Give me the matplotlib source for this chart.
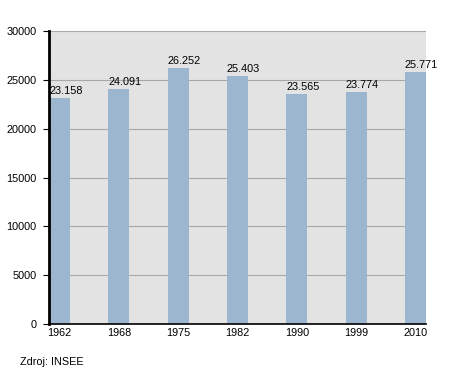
import numpy as np
import matplotlib
matplotlib.use("agg")
import matplotlib.pyplot as plt

plt.rcParams["font.family"] = ["Liberation Sans", "DejaVu Sans"]

years = ["1962", "1968", "1975", "1982", "1990", "1999", "2010"]
population = [23158, 24091, 26252, 25403, 23565, 23774, 25771]
value_labels = ["23.158", "24.091", "26.252", "25.403", "23.565", "23.774", "25.771"]

fig = plt.figure(figsize=(4.55, 3.73), dpi=100)
ax = fig.add_axes([49/455, 49/373, 377/455, 293/373])
ax.set_facecolor("#e3e3e3")

x = np.arange(len(years))
w = 0.355
ax.bar(x, population, width=w, color="#9cb6d0", zorder=3)
for xi, v, lab in zip(x, population, value_labels):
    ax.text(xi - w/2, v + 200, lab, ha="left", va="bottom", fontsize=7.8, zorder=4)

ax.set_xlim(-w/2, len(years) - 1 + w/2)
ax.set_ylim(0, 30000)
ax.set_yticks(np.arange(0, 30001, 5000))
ax.set_xticks(x)
ax.set_xticklabels(years)
ax.tick_params(axis="y", labelsize=7.8, length=4, width=0.8, pad=5)
ax.tick_params(axis="x", labelsize=7.8, length=0, pad=3)
ax.grid(axis="y", color="#a8a8a8", linewidth=0.8, zorder=1)

for s in ["top", "right"]:
    ax.spines[s].set_visible(False)
ax.spines["left"].set_linewidth(2)
ax.spines["bottom"].set_linewidth(1.2)
for s in ["left", "bottom"]:
    ax.spines[s].set_zorder(5)

fig.text(20/455, 1 - 362/373, "Zdroj: INSEE", fontsize=7.8, va="center")

plt.savefig("out.png", dpi=100)
